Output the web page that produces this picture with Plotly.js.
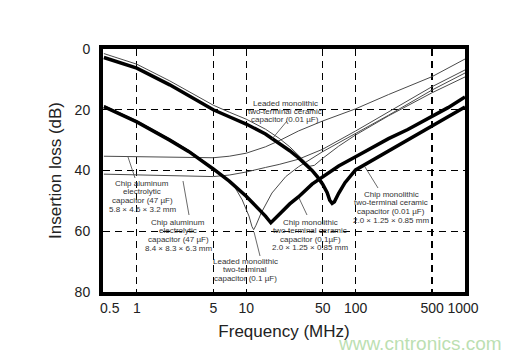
<!DOCTYPE html>
<html><head><meta charset="utf-8">
<script src="https://cdn.plot.ly/plotly-3.0.1.min.js"></script>
<style>html,body{margin:0;padding:0;background:#fff}#chart{width:524px;height:359px}</style>
</head><body><div id="chart"></div>
<script>
// Frequencies (MHz) and insertion loss (dB)
const chip001_f  = [0.5, 1, 2, 3, 5, 7, 10, 15, 20, 25, 30, 35, 40, 45, 50, 55, 58, 61, 64, 70, 80, 100, 200, 300, 500, 700, 1000];
const chip001_db = [2.8, 6.3, 11.8, 15.4, 20, 22.3, 24.7, 28, 31, 33.5, 35.8, 38, 40, 42.2, 44.5, 47.3, 49.8, 50.8, 50.3, 47.5, 44, 39.8, 33.5, 30, 25.5, 22.4, 19.1];

const chip01_f  = [0.5, 1, 2, 3, 5, 7, 10, 13, 15, 16.8, 18, 20, 25, 30, 40, 50, 70, 100, 200, 300, 500, 700, 1000];
const chip01_db = [19, 24, 30, 33.8, 39.5, 43.5, 48.5, 52.5, 55, 57.2, 56, 54.5, 51, 48.7, 44.5, 42, 38.5, 35.5, 29.5, 26.5, 22.3, 19.3, 15.8];

const alSmall_f  = [0.5, 1, 2, 5, 7, 10, 15, 20, 30, 50, 100, 200, 500, 1000];
const alSmall_db = [35.3, 35.5, 35.7, 35.8, 35.3, 34.3, 32.2, 30.2, 27, 23.7, 19.7, 15, 9.1, 3.3];

const alLarge_f  = [0.5, 1, 2, 5, 7, 10, 15, 20, 30, 50, 100, 200, 500, 1000];
const alLarge_db = [41.2, 41.5, 41.8, 42, 41.5, 40.5, 39, 38, 36.3, 33, 27, 20.8, 12.4, 6.9];

const lead01_f  = [0.5, 1, 2, 3, 5, 6, 7.5, 9.2, 10.6, 11.3, 11.7, 12.3, 13.7, 17.2, 23, 30, 50, 100, 200, 500, 1000];
const lead01_db = [18.6, 23.6, 29.6, 33.4, 39.2, 41.3, 44.2, 49.7, 55, 58.5, 59.5, 58, 54, 47.4, 42, 38.8, 33.8, 27.8, 21.8, 13.5, 7.9];

const lead001_f  = [0.5, 1, 2, 3, 5, 7, 10, 15, 20, 25, 30, 35, 38, 42, 50, 70, 100, 200, 500, 1000];
const lead001_db = [1.5, 5.0, 10.5, 14.0, 18.5, 20.8, 23.1, 26.4, 29.4, 32.2, 34.8, 37.3, 38.6, 38.3, 36, 32, 28.3, 22, 14.4, 9.2];

const xTickVals = [0.5, 1, 5, 10, 50, 100, 500, 1000];
const xTickText = ['\u00a0\u00a0\u00a00.5', '1', '5', '10', '50', '100', '500', '1000\u00a0'];
const yTickVals = [0, 20, 40, 60, 80];
const yTickText = ['0', '20', '40', '60', '80'];

const labels = [
  {lines: ['Leaded monolithic', 'two-terminal ceramic', 'capacitor (0.01 \u00b5F)'], cx: 285, y0: 103, dy: 8.3, lead: [287, 121, 272, 139]},
  {lines: ['Chip aluminum', 'electrolytic', 'capacitor (47 \u00b5F)', '5.8 \u00d7 4.6 \u00d7 3.2 mm'], cx: 142, y0: 183, dy: 8.7, lead: [135, 178, 128, 157]},
  {lines: ['Chip aluminum', 'electrolytic', 'capacitor (47 \u00b5F)', '8.4 \u00d7 8.3 \u00d7 6.3 mm'], cx: 178, y0: 222, dy: 8.7, lead: [189, 215, 183, 181]},
  {lines: ['Leaded monolithic', 'two-terminal', 'capacitor (0.1 \u00b5F)'], cx: 245, y0: 261, dy: 8.5, lead: [260, 256, 254, 232]},
  {lines: ['Chip monolithic', 'two-terminal ceramic', 'capacitor (0.1\u00b5F)', '2.0 \u00d7 1.25 \u00d7 0.85 mm'], cx: 310, y0: 222, dy: 8.5, lead: [307, 215, 299, 198]},
  {lines: ['Chip monolithic', 'two-terminal ceramic', 'capacitor (0.01 \u00b5F)', '2.0 \u00d7 1.25 \u00d7 0.85 mm'], cx: 391, y0: 194, dy: 8.7, lead: [378, 188, 365, 167]}
];

const L = 103, T = 49, W = 362, H = 243;
const px = x => (x - L) / W;
const py = y => 1 - (y - T) / H;

const thin = {color: '#4a4a4a', width: 1};
const thick = {color: '#000', width: 3.5};
function tr(x, y, line) { return {x: x, y: y, type: 'scatter', mode: 'lines', line: line, hoverinfo: 'skip'}; }

const data = [
  tr(alSmall_f, alSmall_db, thin),
  tr(alLarge_f, alLarge_db, thin),
  tr(lead001_f, lead001_db, thin),
  tr(lead01_f, lead01_db, thin),
  tr(chip001_f, chip001_db, thick),
  tr(chip01_f, chip01_db, thick)
];

const font = 'Liberation Sans, Arial, sans-serif';
const annotations = [];
const shapes = [];
labels.forEach(lb => {
  lb.lines.forEach((t, i) => {
    annotations.push({xref: 'paper', yref: 'paper', x: px(lb.cx), y: py(lb.y0 + i * lb.dy),
      xanchor: 'center', yanchor: 'middle', text: t, showarrow: false,
      font: {family: font, size: 8, color: '#333'}});
  });
  shapes.push({type: 'line', xref: 'paper', yref: 'paper', x0: px(lb.lead[0]), y0: py(lb.lead[1]),
    x1: px(lb.lead[2]), y1: py(lb.lead[3]), line: {color: '#444', width: 0.8}});
});
annotations.push({xref: 'paper', yref: 'paper', x: px(420), y: py(343), xanchor: 'center', yanchor: 'middle',
  text: 'www.cntronics.com', showarrow: false, font: {family: font, size: 19, color: '#bcdfb2'}});

const layout = {
  width: 524, height: 359,
  margin: {l: L, r: 524 - L - W, t: T, b: 359 - T - H},
  paper_bgcolor: '#fff', plot_bgcolor: '#fff',
  showlegend: false,
  font: {family: font, color: '#222'},
  xaxis: {
    type: 'log', range: [-0.309, 3.0],
    tickvals: xTickVals, ticktext: xTickText, tickfont: {size: 14, color: '#222'},
    ticks: '', ticklabelstandoff: 0,
    showgrid: true, gridcolor: '#000', gridwidth: 1.2, griddash: '7px,5px',
    showline: true, linecolor: '#000', linewidth: 4, mirror: true, zeroline: false,
    title: {text: 'Frequency (MHz)', font: {size: 17, color: '#222'}, standoff: 11}
  },
  yaxis: {
    range: [80, 0],
    tickvals: yTickVals, ticktext: yTickText, tickfont: {size: 14, color: '#222'},
    ticks: '', ticklabelstandoff: 6,
    showgrid: true, gridcolor: '#000', gridwidth: 1.2, griddash: '7px,5px',
    showline: true, linecolor: '#000', linewidth: 4, mirror: true, zeroline: false,
    title: {text: 'Insertion loss (dB)', font: {size: 17, color: '#222'}, standoff: 10}
  },
  annotations: annotations,
  shapes: shapes
};

Plotly.newPlot('chart', data, layout, {staticPlot: true, displayModeBar: false});
</script>
</body></html>
